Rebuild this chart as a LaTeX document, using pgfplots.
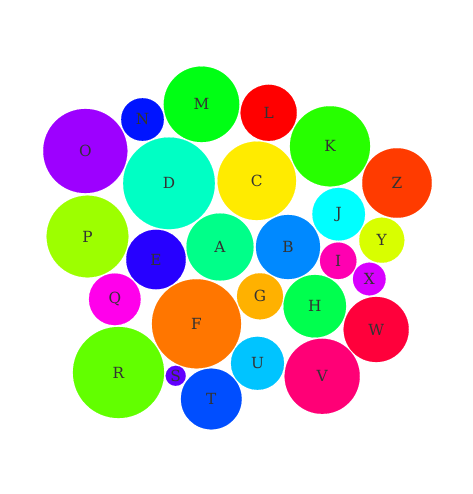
\documentclass[border=0pt]{standalone}
\usepackage[rgb]{xcolor}
\usepackage{pgfplots}
\pgfplotsset{compat=1.18}
\usepackage{fontspec}
\setmainfont{DejaVu Serif}
\definecolor{lbl}{HTML}{333333}
\definecolor{cL}{Hsb}{0,1,1}
\definecolor{cZ}{Hsb}{13.85,1,1}
\definecolor{cF}{Hsb}{27.69,1,1}
\definecolor{cG}{Hsb}{41.54,1,1}
\definecolor{cC}{Hsb}{55.38,1,1}
\definecolor{cY}{Hsb}{69.23,1,1}
\definecolor{cP}{Hsb}{83.08,1,1}
\definecolor{cR}{Hsb}{96.92,1,1}
\definecolor{cK}{Hsb}{110.77,1,1}
\definecolor{cM}{Hsb}{124.62,1,1}
\definecolor{cH}{Hsb}{138.46,1,1}
\definecolor{cA}{Hsb}{152.31,1,1}
\definecolor{cD}{Hsb}{166.15,1,1}
\definecolor{cJ}{Hsb}{180,1,1}
\definecolor{cU}{Hsb}{193.85,1,1}
\definecolor{cB}{Hsb}{207.69,1,1}
\definecolor{cT}{Hsb}{221.54,1,1}
\definecolor{cN}{Hsb}{235.38,1,1}
\definecolor{cE}{Hsb}{249.23,1,1}
\definecolor{cS}{Hsb}{263.08,1,1}
\definecolor{cO}{Hsb}{276.92,1,1}
\definecolor{cX}{Hsb}{290.77,1,1}
\definecolor{cQ}{Hsb}{304.62,1,1}
\definecolor{cI}{Hsb}{318.46,1,1}
\definecolor{cV}{Hsb}{332.31,1,1}
\definecolor{cW}{Hsb}{346.15,1,1}
\newcommand\bub[4]{%
  \addplot[color=c#4, only marks, mark=*, mark size={0.75*#3},
    mark options={draw=c#4, fill=c#4, line width=0.1pt},
    nodes near coords={#4},
    every node near coord/.append style={anchor=center, text=lbl, font=\fontsize{11.5}{13}\selectfont}]
    coordinates {(#1,#2)};}
\begin{document}
\begin{tikzpicture}
\begin{axis}[
  x=0.75pt, y=0.75pt, y dir=reverse,
  xmin=0, xmax=473, ymin=0, ymax=494,
  axis lines=box, axis line style={draw=none},
  xtick=\empty, ytick=\empty, clip=false,
]
\bub{268.7}{112.8}{28.0}{L}
\bub{397.0}{183.0}{34.7}{Z}
\bub{196.5}{323.8}{44.5}{F}
\bub{260.0}{296.3}{23.0}{G}
\bub{256.8}{180.8}{39.2}{C}
\bub{381.8}{240.2}{22.5}{Y}
\bub{87.5}{236.5}{40.8}{P}
\bub{118.5}{372.5}{45.5}{R}
\bub{330.0}{146.3}{40.0}{K}
\bub{201.5}{104.3}{37.7}{M}
\bub{314.8}{306.2}{31.2}{H}
\bub{220.0}{247.0}{33.5}{A}
\bub{169.0}{183.3}{45.8}{D}
\bub{338.7}{214.2}{26.3}{J}
\bub{257.5}{363.3}{26.5}{U}
\bub{288.0}{247.0}{32.0}{B}
\bub{211.3}{399.0}{30.3}{T}
\bub{142.5}{119.5}{21.3}{N}
\bub{156.0}{259.5}{29.7}{E}
\bub{175.7}{375.8}{10.0}{S}
\bub{85.3}{151.0}{42.0}{O}
\bub{369.3}{279.0}{16.3}{X}
\bub{114.8}{299.3}{25.8}{Q}
\bub{338.2}{260.8}{18.2}{I}
\bub{322.2}{376.3}{37.5}{V}
\bub{376.2}{329.5}{32.5}{W}
\end{axis}
\end{tikzpicture}
\end{document}
